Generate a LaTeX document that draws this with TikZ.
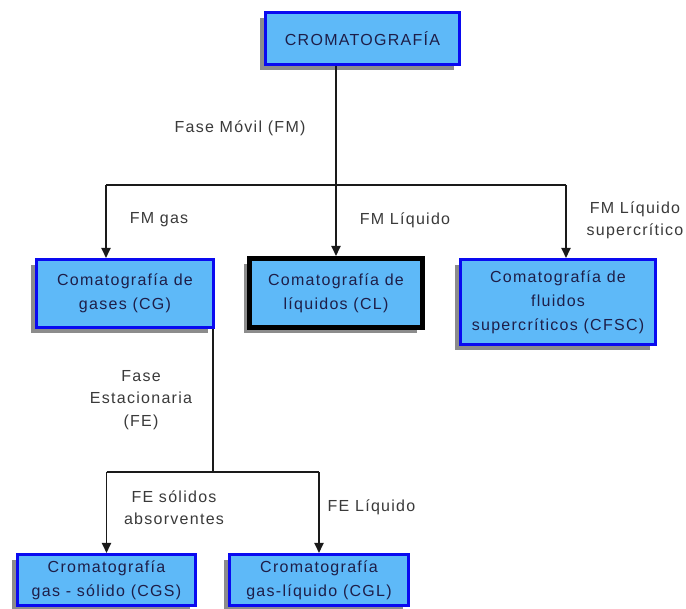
\documentclass[tikz,border=0pt]{standalone}
\usepackage{fontspec}
\setmainfont{Liberation Sans}[LetterSpace=8]
\usetikzlibrary{arrows.meta,shadows,calc}
\definecolor{boxfill}{HTML}{5EB9F8}
\definecolor{boxedge}{HTML}{0A0AF0}
\definecolor{shadowgray}{HTML}{8C8C8C}
\definecolor{boxtext}{HTML}{1E1E48}
\definecolor{lbltext}{HTML}{3A3A3A}
\definecolor{connline}{HTML}{1A1A1A}
\begin{document}
\begin{tikzpicture}[x=1pt,y=-1pt,
  box/.style={draw=boxedge, line width=3pt, fill=boxfill, inner sep=0pt,
    align=center, text=boxtext, font=\fontsize{16}{24}\selectfont,
    drop shadow={shadow xshift=-6pt, shadow yshift=-6pt, fill=shadowgray, opacity=1}},
  boldbox/.style={box, draw=black, line width=5pt},
  lbl/.style={inner sep=0pt, align=center, text=lbltext, font=\fontsize{16}{22.5}\selectfont},
  conn/.style={draw=connline, line width=1.8pt},
  arr/.style={conn, -{Triangle[width=9pt,length=10pt]}}]
\useasboundingbox (0,0) rectangle (686,609);
\fill[white] (0,0) rectangle (686,609);

% boxes
\node[box, minimum width=194pt, minimum height=52pt] (top) at (362.5,38.5) {CROMATOGRAFÍA};
\node[box, minimum width=177pt, minimum height=68pt] (CG) at (125,293.5) {Comatografía de\\gases (CG)};
\node[boldbox, minimum width=173pt, minimum height=69pt] (CL) at (336,293) {Comatografía de\\líquidos (CL)};
\node[box, minimum width=195pt, minimum height=85pt] (CFSC) at (558,302) {Comatografía de\\fluidos\\supercríticos (CFSC)};
\node[box, minimum width=178pt, minimum height=51pt] (CGS) at (106.5,580) {Cromatografía\\gas - sólido (CGS)};
\node[box, minimum width=179pt, minimum height=51pt] (CGL) at (319,580) {Cromatografía\\gas-líquido (CGL)};

% first level connectors
\coordinate (b1L) at (106,185);
\coordinate (b1R) at (566,185);
\draw[arr] (top.south -| CL.north) -- (CL.north);
\draw[conn] (b1L) -- (b1R);
\draw[arr] (b1L) -- (b1L |- CG.north);
\draw[arr] (b1R) -- (b1R |- CFSC.north);

% second level connectors
\coordinate (b2) at (213,472);
\coordinate (b2L) at (CGS.north |- b2);
\coordinate (b2R) at (CGL.north |- b2);
\draw[conn] (b2 |- CG.south) -- (b2);
\draw[conn] (b2L) -- (b2R);
\draw[arr] (b2L) -- (CGS.north);
\draw[arr] (b2R) -- (CGL.north);

% labels
\node[lbl] (lFM) at (240,128) {Fase Móvil (FM)};
\node[lbl] (lgas) at (159,220) {FM gas};
\node[lbl] (lliq) at (405,220) {FM Líquido};
\node[lbl] (lsup) at (635,220.5) {FM Líquido\\supercrítico};
\node[lbl] (lFE) at (141,400) {Fase\\Estacionaria\\(FE)};
\node[lbl] (lsol) at (174,507.5) {FE sólidos\\absorventes};
\node[lbl] (lFEl) at (371.5,507) {FE Líquido};
\end{tikzpicture}
\end{document}
